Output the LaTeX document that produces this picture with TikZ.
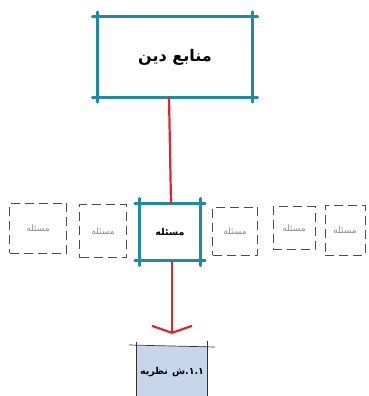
\documentclass[tikz,border=0pt]{standalone}
\usepackage{fontspec}
\newfontfamily\arabicfont[Script=Arabic]{DejaVu Sans}
\TeXXeTstate=1
\usetikzlibrary{arrows.meta, positioning}
\definecolor{tealb}{HTML}{1f8aa5}
\definecolor{redl}{HTML}{e5232b}
\definecolor{blued}{HTML}{c8d6ec}
\definecolor{greyt}{HTML}{8a8a8a}

\tikzset{
    srcbox/.style={draw=none, minimum width=155pt, minimum height=80pt, inner sep=0pt},
    probbox/.style={draw=none, minimum width=60pt, minimum height=57pt, inner sep=0pt},
    ghostbox/.style={draw=black!70, dash pattern=on 9pt off 5pt, line width=0.8pt,
        inner sep=0pt, text=greyt, font=\arabicfont\fontsize{9}{10}\selectfont},
    theorybox/.style={draw=none, fill=blued, minimum width=70pt,
        minimum height=52pt, inner sep=0pt},
    sketch/.style={draw=tealb, line width=3pt, line cap=round,
        shorten <=-5pt, shorten >=-5pt},
    thinsketch/.style={draw=black!80, line width=0.7pt},
    redline/.style={draw=redl, line width=2.2pt}
}

\begin{document}
\begin{tikzpicture}[x=1pt, y=-1pt]
    \useasboundingbox (0,0) rectangle (368,396);
    % main boxes
    \node[srcbox] (src) at (175,57) {\arabicfont\bfseries\fontsize{16}{18}\selectfont\beginR منابع دین\endR};
    \node[probbox] (prob) at (170,232) {\arabicfont\bfseries\fontsize{9.5}{11}\selectfont\beginR مسئله\endR};
    \node[theorybox, anchor=north] (theory) at (172,346)
        {\arabicfont\bfseries\fontsize{9.5}{11}\selectfont
         \mbox{نظریه}\hspace{4pt}\mbox{ش}\mbox{۱.۱.}};
    % sketchy borders
    \foreach \n in {src, prob} {
        \draw[sketch] (\n.north west) -- (\n.north east);
        \draw[sketch] (\n.south west) -- (\n.south east);
        \draw[sketch] (\n.north west) -- (\n.south west);
        \draw[sketch] (\n.north east) -- (\n.south east);
    }
    \draw[thinsketch] ([xshift=-8pt, yshift=1pt]theory.north west) -- ([xshift=8pt, yshift=-1pt]theory.north east);
    \draw[thinsketch] ([yshift=4pt]theory.north west) -- (theory.south west);
    \draw[thinsketch] ([yshift=5pt]theory.north east) -- (theory.south east);
    % neighbouring problems
    \node[ghostbox, minimum width=57pt, minimum height=50pt] (p1) at (38,228) {\beginR مسئله\endR};
    \node[ghostbox, minimum width=47pt, minimum height=53pt] (p2) at (103,231) {\beginR مسئله\endR};
    \node[ghostbox, minimum width=45pt, minimum height=48pt] (p4) at (235,231) {\beginR مسئله\endR};
    \node[ghostbox, minimum width=42pt, minimum height=43pt] (p5) at (294,228) {\beginR مسئله\endR};
    \node[ghostbox, minimum width=40pt, minimum height=50pt] (p6) at (345,230) {\beginR مسئله\endR};
    % connectors
    \draw[redline] ([xshift=-6pt]src.south) -- ([xshift=1pt]prob.north);
    \draw[redline, -{Straight Barb[length=7pt, width=40pt, line width=2.2pt]}, shorten >=12pt]
        ([xshift=2pt]prob.south) -- (theory.north);
\end{tikzpicture}
\end{document}
